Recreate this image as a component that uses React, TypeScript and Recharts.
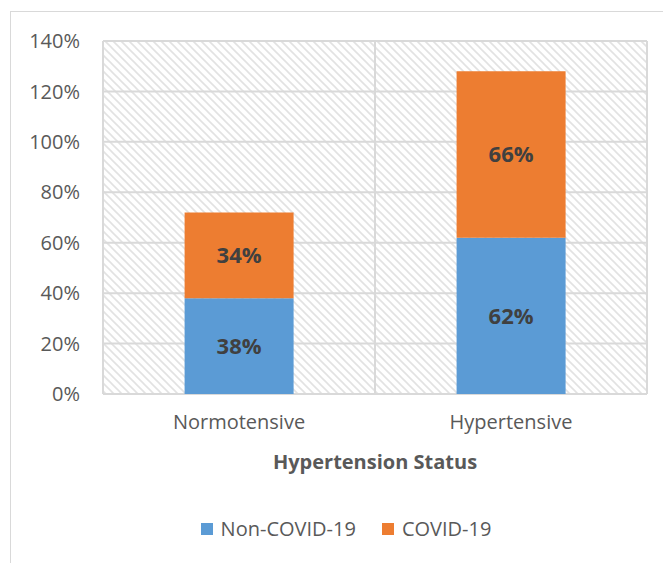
import { BarChart, Bar, XAxis, YAxis, CartesianGrid, Legend, LabelList } from 'recharts';

const categories = ['Normotensive', 'Hypertensive'];
const seriesNames = ['Non-COVID-19', 'COVID-19'];
const nonCovid = [38, 62];
const covid = [34, 66];
const yTicks = [0, 20, 40, 60, 80, 100, 120, 140];

const data = categories.map((status, i) => ({
  status,
  nonCovid: nonCovid[i],
  covid: covid[i],
}));

const FONT = '"Open Sans", sans-serif';
const TEXT = '#595959';
const GRID = '#d9d9d9';
const BLUE = '#5b9bd5';
const ORANGE = '#ed7d31';

const pct = (v: number) => `${v}%`;

// recharts sorts legend items by name, so put them back in series order
const renderLegend = (props: any) => {
  const items = [...(props.payload || [])].sort(
    (a: any, b: any) => seriesNames.indexOf(a.value) - seriesNames.indexOf(b.value)
  );
  return (
    <div style={{ display: 'flex', justifyContent: 'center', gap: 26, fontFamily: FONT }}>
      {items.map((item: any) => (
        <div key={item.value} style={{ display: 'flex', alignItems: 'center', fontSize: 20, color: TEXT }}>
          <span style={{ width: 12, height: 12, background: item.color, marginRight: 8, display: 'inline-block' }} />
          {item.value}
        </div>
      ))}
    </div>
  );
};

export default function App() {
  return (
    <div style={{ position: 'absolute', left: 0, top: 0, width: 663, height: 563, overflow: 'hidden', background: '#fff' }}>
      <div
        style={{
          position: 'absolute',
          left: 10,
          top: 11,
          width: 700,
          height: 600,
          borderLeft: '1px solid #d9d9d9',
          borderTop: '1px solid #d9d9d9',
        }}
      />
      <div style={{ position: 'absolute', left: 0, top: 0 }}>
        <BarChart
          width={663}
          height={563}
          data={data}
          margin={{ top: 41, right: 16, left: 0, bottom: 0 }}
          barCategoryGap="30%"
          style={{ fontFamily: FONT }}
        >
          <defs>
            <pattern id="hatch" width="8" height="8" patternUnits="userSpaceOnUse">
              <rect width="8" height="8" fill="#ffffff" />
              <path d="M-2,6 L2,10 M0,0 L8,8 M6,-2 L10,2" stroke="#e2e2e2" strokeWidth="1.6" />
            </pattern>
          </defs>
          <CartesianGrid
            stroke={GRID}
            strokeWidth={2}
            fill="url(#hatch)"
            fillOpacity={1}
            verticalCoordinatesGenerator={({ offset }: any) => [
              offset.left,
              offset.left + offset.width / 2,
              offset.left + offset.width,
            ]}
          />
          <XAxis
            dataKey="status"
            axisLine={false}
            tickLine={false}
            tickSize={0}
            tickMargin={21}
            height={139}
            tick={{ fontSize: 20, fill: TEXT }}
            label={{
              value: 'Hypertension Status',
              position: 'insideTop',
              offset: 61,
              fontSize: 20,
              fontWeight: 'bold',
              fill: TEXT,
            }}
          />
          <YAxis
            domain={[0, 140]}
            ticks={yTicks}
            tickFormatter={pct}
            axisLine={false}
            tickLine={false}
            tickSize={0}
            tickMargin={23}
            width={103}
            tick={{ fontSize: 20, fill: TEXT }}
          />
          <Legend
            content={renderLegend}
            wrapperStyle={{ left: 30, width: 632, height: 30, top: 515 }}
          />
          <Bar dataKey="nonCovid" name={seriesNames[0]} stackId="a" fill={BLUE} isAnimationActive={false}>
            <LabelList dataKey="nonCovid" position="center" formatter={pct} fill="#404040" fontSize={22} fontWeight="bold" />
          </Bar>
          <Bar dataKey="covid" name={seriesNames[1]} stackId="a" fill={ORANGE} isAnimationActive={false}>
            <LabelList dataKey="covid" position="center" formatter={pct} fill="#404040" fontSize={22} fontWeight="bold" />
          </Bar>
        </BarChart>
      </div>
    </div>
  );
}
